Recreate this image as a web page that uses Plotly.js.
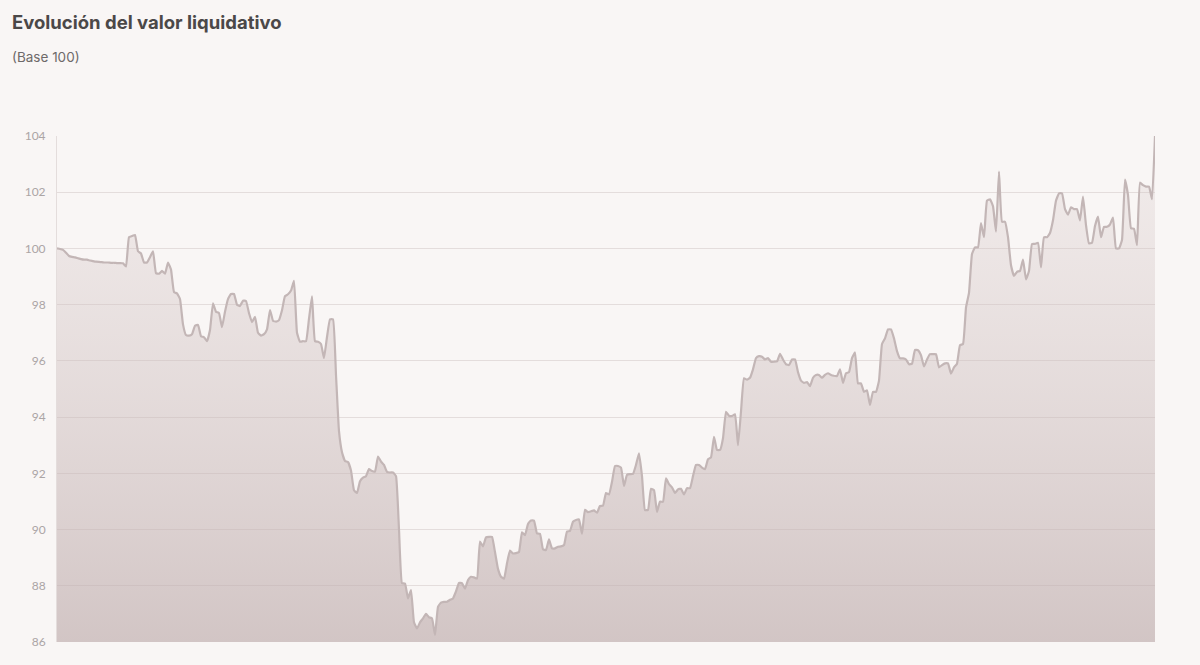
<!DOCTYPE html>
<html>
<head>
<meta charset="utf-8">
<script src="https://cdn.plot.ly/plotly-3.0.1.min.js"></script>
<style>
html,body{margin:0;padding:0;background:#f9f6f5;}
#chart{width:1200px;height:665px;}
</style>
</head>
<body>
<div id="chart"></div>
<script>
const titulo = "Evolución del valor liquidativo";
const subtitulo = "(Base 100)";
const yTicks = [86, 88, 90, 92, 94, 96, 98, 100, 102, 104];
const valorLiquidativo = [
100.0, 99.98, 99.95, 99.85, 99.73, 99.7, 99.68, 99.65, 99.62, 99.6,
99.6, 99.57, 99.55, 99.53, 99.52, 99.51, 99.5, 99.5, 99.49, 99.49,
99.48, 99.48, 99.47, 99.36, 100.4, 100.44, 100.48, 99.9, 99.82, 99.5,
99.5, 99.69, 99.9, 99.12, 99.1, 99.2, 99.1, 99.5, 99.25, 98.45,
98.4, 98.2, 97.3, 96.92, 96.9, 96.95, 97.25, 97.28, 96.88, 96.84,
96.7, 97.1, 98.05, 97.75, 97.7, 97.2, 97.75, 98.2, 98.38, 98.38,
98.0, 97.95, 98.14, 98.13, 97.7, 97.38, 97.57, 97.0, 96.9, 96.95,
97.12, 97.81, 97.43, 97.4, 97.45, 97.8, 98.3, 98.37, 98.5, 98.85,
97.0, 96.68, 96.7, 96.7, 97.5, 98.3, 96.7, 96.68, 96.6, 96.1,
96.85, 97.48, 97.48, 95.5, 93.5, 92.75, 92.44, 92.4, 92.1, 91.4,
91.3, 91.72, 91.85, 91.9, 92.15, 92.08, 92.06, 92.6, 92.42, 92.3,
92.05, 92.03, 92.03, 91.9, 90.0, 88.09, 88.08, 87.55, 87.85, 86.7,
86.48, 86.7, 86.84, 87.0, 86.88, 86.84, 86.25, 87.25, 87.4, 87.43,
87.43, 87.5, 87.55, 87.8, 88.1, 88.09, 87.9, 88.2, 88.32, 88.3,
88.26, 89.57, 89.4, 89.72, 89.74, 89.74, 89.2, 88.6, 88.32, 88.25,
88.8, 89.25, 89.15, 89.16, 89.2, 89.9, 89.8, 90.2, 90.32, 90.32,
89.86, 89.85, 89.3, 89.27, 89.65, 89.33, 89.33, 89.39, 89.4, 89.45,
89.93, 89.95, 90.28, 90.34, 90.36, 89.85, 90.7, 90.62, 90.65, 90.68,
90.6, 90.84, 90.85, 91.3, 91.25, 91.7, 92.26, 92.26, 92.2, 91.55,
91.95, 91.97, 91.98, 92.3, 92.71, 91.9, 90.69, 90.7, 91.45, 91.4,
90.63, 90.99, 90.99, 91.82, 91.62, 91.5, 91.3, 91.43, 91.45, 91.25,
91.47, 91.47, 91.9, 92.3, 92.3, 92.2, 92.15, 92.5, 92.57, 93.3,
92.83, 92.83, 93.25, 94.19, 94.05, 94.04, 94.1, 93.0, 94.2, 95.38,
95.33, 95.4, 95.7, 96.1, 96.17, 96.15, 96.05, 96.1, 95.97, 95.97,
95.98, 96.25, 96.05, 95.88, 95.85, 96.05, 96.05, 95.6, 95.3, 95.22,
95.25, 95.1, 95.4, 95.5, 95.5, 95.4, 95.5, 95.56, 95.5, 95.47,
95.46, 95.7, 95.22, 95.56, 95.6, 96.1, 96.3, 95.2, 95.2, 94.9,
94.95, 94.43, 94.9, 94.9, 95.3, 96.6, 96.8, 97.12, 97.12, 96.8,
96.35, 96.09, 96.09, 96.05, 95.88, 95.9, 96.39, 96.38, 96.2, 95.8,
96.05, 96.24, 96.24, 96.24, 95.77, 95.85, 95.91, 95.91, 95.55, 95.77,
95.9, 96.56, 96.6, 97.9, 98.42, 99.8, 100.04, 100.04, 100.9, 100.4,
101.7, 101.75, 101.5, 100.6, 102.73, 100.95, 100.95, 100.4, 99.4, 99.02,
99.17, 99.2, 99.6, 98.9, 99.2, 100.16, 100.16, 100.2, 99.33, 100.4,
100.4, 100.55, 101.0, 101.7, 101.96, 101.96, 101.4, 101.2, 101.46, 101.4,
101.4, 101.0, 101.84, 100.83, 100.18, 100.2, 100.8, 101.13, 100.4, 100.77,
100.77, 100.85, 101.1, 100.0, 100.0, 100.3, 102.45, 101.9, 100.72, 100.7,
100.12, 102.34, 102.25, 102.2, 102.2, 101.75, 104.0
];
const sesiones = valorLiquidativo.map((_, i) => i);

const trace = {
  x: sesiones,
  y: valorLiquidativo,
  type: 'scatter',
  mode: 'lines',
  line: {color: '#c3b6b6', width: 2.2, shape: 'spline', smoothing: 0.35},
  fill: 'tozeroy',
  fillgradient: {
    type: 'vertical',
    start: 86,
    stop: 104,
    colorscale: [[0, 'rgba(190,172,172,0.66)'], [1, 'rgba(215,200,200,0.22)']]
  },
  hoverinfo: 'y'
};

const layout = {
  width: 1200,
  height: 665,
  paper_bgcolor: '#f9f6f5',
  plot_bgcolor: '#f9f6f5',
  margin: {l: 57, r: 45, t: 136, b: 23},
  showlegend: false,
  font: {family: 'Lato, "Open Sans", sans-serif'},
  xaxis: {
    range: [0, sesiones.length - 1],
    showgrid: false,
    zeroline: false,
    showticklabels: false,
    showline: false,
    fixedrange: true
  },
  yaxis: {
    range: [86, 104],
    tickvals: yTicks,
    ticktext: yTicks.map(String),
    showgrid: true,
    gridcolor: '#e4dddc',
    gridwidth: 1,
    zeroline: false,
    showline: true,
    linecolor: '#e4dddc',
    linewidth: 1,
    ticks: '',
    ticklabelstandoff: 8,
    tickfont: {family: 'Lato, sans-serif', size: 12, color: '#aba5a5'},
    fixedrange: true
  },
  annotations: [
    {
      text: '<b>' + titulo + '</b>',
      xref: 'paper', yref: 'paper',
      x: (10 - 57) / 1098, y: (642 - 22) / 506,
      xanchor: 'left', yanchor: 'middle',
      showarrow: false,
      font: {family: 'Inter, "Open Sans", sans-serif', size: 18.5, color: '#4b4848'}
    },
    {
      text: subtitulo,
      xref: 'paper', yref: 'paper',
      x: (10 - 57) / 1098, y: (642 - 57) / 506,
      xanchor: 'left', yanchor: 'middle',
      showarrow: false,
      font: {family: 'Inter, "Open Sans", sans-serif', size: 13.5, color: '#6e6969'}
    }
  ]
};

Plotly.newPlot('chart', [trace], layout, {displayModeBar: false, staticPlot: true});
</script>
</body>
</html>
